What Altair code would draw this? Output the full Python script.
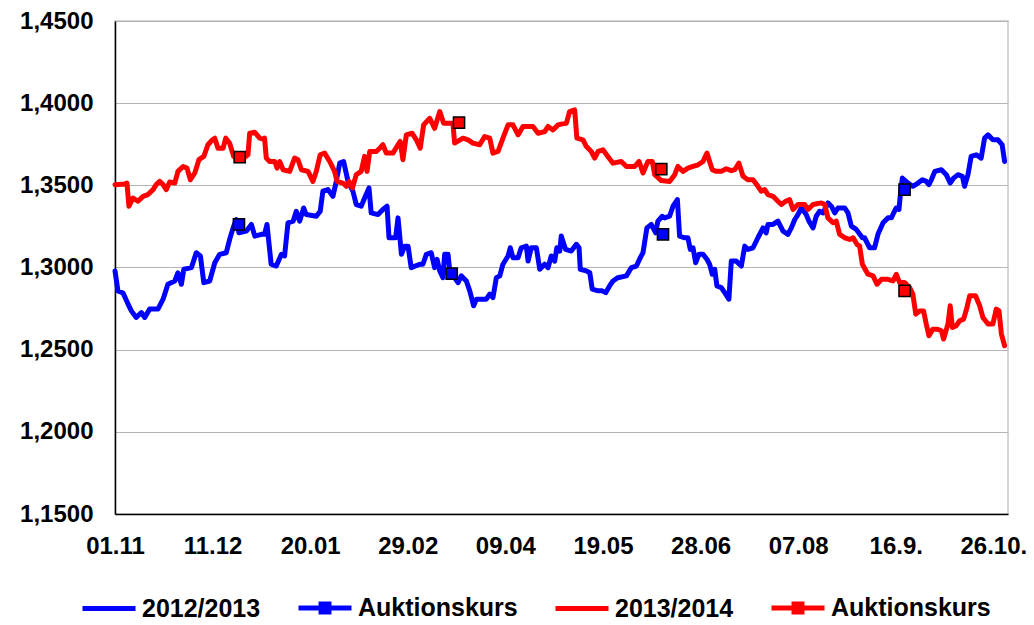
import altair as alt
import pandas as pd

# x axis: day index from 01.11, ticks every 40 days
x_tick_days = [0, 40, 80, 120, 160, 200, 240, 280, 320, 360]
x_tick_labels = ['01.11', '11.12', '20.01', '29.02', '09.04', '19.05', '28.06', '07.08', '16.9.', '26.10.']
y_ticks = [1.15, 1.20, 1.25, 1.30, 1.35, 1.40, 1.45]

series_names = {"A": "2012/2013", "B": "Auktionskurs", "C": "2013/2014", "D": "Auktionskurs"}

# 2012/2013 (blue): (day, rate)
kurs_2012 = [
    (0, 1.2979), (1.2, 1.2858), (3.3, 1.2845), (5.3, 1.2779), (6.7, 1.2736), (8.7, 1.2696), (10.8, 1.2726),
    (12.2, 1.2696), (14.2, 1.2747), (17.6, 1.2747), (19.7, 1.2807), (21.7, 1.2898), (24.5, 1.2918), (25.8, 1.2968),
    (27.2, 1.2898), (28.2, 1.2989), (31.3, 1.2999), (33.3, 1.3090), (35, 1.3070), (36.4, 1.2908), (38.8, 1.2918),
    (40.9, 1.3029), (42.9, 1.3080), (45.6, 1.3090), (47, 1.3171), (48.4, 1.3241), (49.7, 1.3292), (50.8, 1.3211),
    (53.8, 1.3221), (55.9, 1.3262), (57.3, 1.3191), (60, 1.3202), (61.3, 1.3202), (62.3, 1.3262), (64, 1.3020),
    (66.1, 1.3009), (68.2, 1.3080), (69.5, 1.3070), (70.9, 1.3272), (73, 1.3282), (74.3, 1.3342), (75.7, 1.3282),
    (77.3, 1.3362), (78.4, 1.3322), (82.5, 1.3312), (84.1, 1.3342), (85.2, 1.3464), (87.3, 1.3474), (89.3, 1.3433),
    (90.7, 1.3524), (92.1, 1.3635), (93.7, 1.3645), (95.5, 1.3524), (97.5, 1.3464), (98.9, 1.3383), (100.9, 1.3373),
    (102.3, 1.3423), (104.1, 1.3484), (105, 1.3332), (107.8, 1.3322), (109.8, 1.3353), (111.5, 1.3373), (112.3, 1.3181),
    (115, 1.3181), (116, 1.3302), (117.4, 1.3080), (118.7, 1.3130), (120.1, 1.3130), (121.4, 1.2999), (124.9, 1.3020),
    (126.2, 1.3020), (127.6, 1.3080), (129.6, 1.3090), (131, 1.2999), (132, 1.3050), (133.1, 1.2979), (134.4, 1.2938),
    (135.1, 1.3080), (136.5, 1.3080), (137.2, 1.2979), (139.2, 1.2938), (140.6, 1.2908), (141.9, 1.2949), (144, 1.2918),
    (145.4, 1.2858), (147, 1.2767), (148.1, 1.2807), (152.2, 1.2807), (153.6, 1.2838), (154.9, 1.2817), (156.3, 1.2938),
    (157.7, 1.2949), (159, 1.3020), (161.1, 1.3070), (162, 1.3120), (163.1, 1.3060), (165.2, 1.3060), (166.5, 1.3120),
    (168.6, 1.3130), (169.3, 1.3039), (170.6, 1.3120), (172.7, 1.3120), (174.1, 1.2989), (176.1, 1.3020), (177.5, 1.2999),
    (178.8, 1.3070), (180.2, 1.3039), (181.1, 1.3120), (182.3, 1.3100), (182.9, 1.3191), (184.7, 1.3110), (187, 1.3100),
    (189.1, 1.3141), (190.2, 1.3120), (190.7, 1.2989), (193.2, 1.2979), (194.6, 1.2968), (195.6, 1.2868), (198, 1.2858),
    (199.7, 1.2858), (201.1, 1.2847), (202.7, 1.2888), (204.1, 1.2918), (206.1, 1.2938), (209.6, 1.2949), (211.6, 1.2999),
    (213.7, 1.3009), (215.3, 1.3060), (216.4, 1.3090), (218, 1.3241), (219.8, 1.3262), (221.6, 1.3211), (222.5, 1.3282),
    (224.3, 1.3312), (225.3, 1.3302), (227.3, 1.3312), (228.7, 1.3373), (230.5, 1.3413), (231.4, 1.3191), (233.5, 1.3181),
    (234.8, 1.3181), (235.8, 1.3110), (236.9, 1.3120), (238, 1.3029), (239.3, 1.3080), (241, 1.3080), (242.6, 1.3050),
    (243.7, 1.3020), (244.8, 1.2959), (245.8, 1.2989), (246.7, 1.2888), (248.5, 1.2878), (249.9, 1.2847), (251.6, 1.2807),
    (252.6, 1.3039), (254.6, 1.3039), (256.7, 1.3009), (258.1, 1.3130), (259.4, 1.3110), (261.5, 1.3120), (263.5, 1.3181),
    (265.6, 1.3241), (266.9, 1.3211), (267.6, 1.3262), (269.7, 1.3262), (271.7, 1.3282), (273.8, 1.3221), (275.8, 1.3202),
    (277.2, 1.3241), (278.6, 1.3292), (279.9, 1.3322), (281.3, 1.3362), (283.3, 1.3322), (284.4, 1.3282), (286.1, 1.3241),
    (287.4, 1.3312), (288.8, 1.3342), (290.2, 1.3332), (292.2, 1.3393), (293.6, 1.3373), (295, 1.3332), (296.3, 1.3362),
    (299.1, 1.3362), (300.4, 1.3332), (301.8, 1.3252), (303.8, 1.3232), (306.3, 1.3181), (307.2, 1.3181), (309.3, 1.3120),
    (311.3, 1.3120), (312.7, 1.3202), (314.8, 1.3272), (316.8, 1.3302), (318.2, 1.3302), (319.1, 1.3332), (320.2, 1.3362),
    (321.3, 1.3353), (321.9, 1.3444), (322.7, 1.3544), (325, 1.3514), (327, 1.3494), (329.1, 1.3514), (330.9, 1.3534),
    (332.5, 1.3524), (333.6, 1.3504), (334.6, 1.3534), (336, 1.3585), (338.7, 1.3595), (340.7, 1.3565), (342.3, 1.3514),
    (343.7, 1.3544), (345.5, 1.3565), (347.3, 1.3555), (348.2, 1.3494), (349.6, 1.3565), (350.9, 1.3676), (353, 1.3686),
    (355, 1.3666), (356.4, 1.3787), (357.8, 1.3807), (359.8, 1.3777), (361.9, 1.3777), (363.6, 1.3747), (364.6, 1.3645),
]

# 2013/2014 (red): (day, rate)
kurs_2013 = [
    (0, 1.3504), (4, 1.3508), (4.9, 1.3514), (5.7, 1.3373), (7.4, 1.3423), (9.4, 1.3403), (11.5, 1.3433), (13.5, 1.3444),
    (15.6, 1.3474), (16.9, 1.3504), (18.3, 1.3524), (19.7, 1.3504), (21, 1.3474), (22.4, 1.3520), (24.5, 1.3514),
    (25.8, 1.3585), (27.9, 1.3615), (29.5, 1.3605), (30.9, 1.3534), (32.7, 1.3575), (34.4, 1.3656), (36.4, 1.3676),
    (38.1, 1.3747), (39.5, 1.3771), (40.9, 1.3787), (42.2, 1.3726), (44.3, 1.3726), (45.4, 1.3787), (47, 1.3756),
    (48.6, 1.3676), (51.1, 1.3672), (52.7, 1.3666), (54.5, 1.3686), (55.2, 1.3817), (57.3, 1.3823), (59.3, 1.3787),
    (60.4, 1.3783), (61.3, 1.3787), (62, 1.3666), (63.4, 1.3645), (65.5, 1.3645), (66.4, 1.3605), (67.5, 1.3645),
    (68.9, 1.3595), (71.6, 1.3585), (73.6, 1.3666), (75, 1.3656), (76.4, 1.3595), (79.1, 1.3585), (81.1, 1.3524),
    (82.5, 1.3585), (84.1, 1.3686), (85.9, 1.3696), (88, 1.3645), (90, 1.3585), (91, 1.3524), (93.4, 1.3514),
    (94.8, 1.3494), (95.9, 1.3524), (97.3, 1.3484), (98.9, 1.3565), (100.9, 1.3585), (102.3, 1.3676), (103.3, 1.3585),
    (104.4, 1.3706), (107.1, 1.3706), (108.5, 1.3726), (109.8, 1.3747), (111.2, 1.3696), (113.9, 1.3696), (116, 1.3747),
    (116.9, 1.3767), (118, 1.3656), (119.4, 1.3807), (121.8, 1.3817), (123.5, 1.3777), (125.1, 1.3726), (126.5, 1.3868),
    (129, 1.3908), (131, 1.3847), (133.1, 1.3949), (134.7, 1.3878), (136.5, 1.3878), (138.5, 1.3878), (139.2, 1.3757),
    (142.6, 1.3787), (144.7, 1.3777), (146.7, 1.3757), (149.5, 1.3747), (151.5, 1.3797), (153.6, 1.3787), (154.9, 1.3696),
    (157, 1.3706), (159, 1.3787), (161.1, 1.3868), (163.1, 1.3868), (165.2, 1.3807), (167.2, 1.3858), (171.3, 1.3858),
    (173.4, 1.3817), (176.1, 1.3827), (177.5, 1.3858), (179.5, 1.3837), (181.6, 1.3868), (183.3, 1.3874), (185, 1.3878),
    (186.3, 1.3949), (188.4, 1.3959), (189.3, 1.3787), (191.8, 1.3777), (193.2, 1.3736), (195.2, 1.3706), (196.6, 1.3666),
    (198, 1.3706), (200, 1.3716), (202, 1.3676), (204.1, 1.3635), (207.5, 1.3645), (209.6, 1.3615), (213, 1.3615),
    (214.8, 1.3645), (216.4, 1.3575), (218.4, 1.3645), (220.2, 1.3645), (221.2, 1.3565), (223.9, 1.3529), (227.3, 1.3524),
    (229.4, 1.3565), (230.7, 1.3615), (232.8, 1.3585), (234.8, 1.3605), (236.9, 1.3615), (239, 1.3625), (241, 1.3645),
    (242.6, 1.3696), (244.8, 1.3595), (246.4, 1.3585), (248.5, 1.3585), (250.5, 1.3601), (252.6, 1.3589), (254, 1.3595),
    (255.7, 1.3635), (257.4, 1.3555), (259.4, 1.3534), (261.5, 1.3534), (263.5, 1.3494), (264.9, 1.3464), (266.3, 1.3474),
    (267.6, 1.3444), (269.7, 1.3433), (271.7, 1.3403), (273.1, 1.3383), (274.9, 1.3403), (276.5, 1.3413), (277.9, 1.3353),
    (279.9, 1.3383), (282.7, 1.3383), (284, 1.3353), (286.1, 1.3383), (289.5, 1.3393), (290.9, 1.3383), (292.2, 1.3302),
    (294.3, 1.3272), (295.6, 1.3282), (297, 1.3202), (299.1, 1.3181), (301.1, 1.3171), (302.5, 1.3181), (304.1, 1.3141),
    (305.2, 1.3130), (306.3, 1.3020), (308.6, 1.2959), (310.7, 1.2949), (312.3, 1.2898), (314.1, 1.2928), (316.8, 1.2928),
    (318.9, 1.2918), (320.2, 1.2959), (321.6, 1.2908), (323.6, 1.2908), (325.7, 1.2878), (327, 1.2838), (328.2, 1.2716),
    (329.8, 1.2736), (331.4, 1.2736), (332.5, 1.2656), (333.6, 1.2585), (335.2, 1.2625), (336.9, 1.2625), (338.7, 1.2615),
    (339.6, 1.2565), (341.4, 1.2656), (342.3, 1.2767), (343.2, 1.2635), (344.8, 1.2646), (346.2, 1.2676), (347.8, 1.2686),
    (349.2, 1.2757), (350.3, 1.2828), (352.7, 1.2828), (354.4, 1.2767), (355.7, 1.2696), (357.8, 1.2656), (359.8, 1.2656),
    (361.2, 1.2747), (362.3, 1.2736), (363.3, 1.2595), (364.6, 1.2524),
]

# auction rates (markers)
auktion_2012 = [(50.8, 1.3262), (138, 1.2963), (224.6, 1.3202), (323.6, 1.3474)]
auktion_2013 = [(51.1, 1.3672), (141, 1.3882), (223.9, 1.3599), (323.6, 1.2858)]

line_rows = [{"day": d, "kurs": v, "serie": "A"} for d, v in kurs_2012] + \
            [{"day": d, "kurs": v, "serie": "C"} for d, v in kurs_2013]
marker_rows = [{"day": d, "kurs": v, "serie": "B"} for d, v in auktion_2012] + \
              [{"day": d, "kurs": v, "serie": "D"} for d, v in auktion_2013]
lines_df = pd.DataFrame(line_rows)
markers_df = pd.DataFrame(marker_rows)

FONT = "Liberation Sans"
BLUE = "#0000FF"
RED = "#FF0000"

x_label_expr = "[" + ",".join("'%s'" % s for s in x_tick_labels) + "][round(datum.value/40)]"
legend_label_expr = "datum.value=='A'?'%s':datum.value=='B'?'%s':datum.value=='C'?'%s':'%s'" % (
    series_names["A"], series_names["B"], series_names["C"], series_names["D"])

color_scale = alt.Scale(domain=list(series_names.keys()), range=[BLUE, BLUE, RED, RED])

legend = alt.Legend(
    title=None,
    orient="none",
    legendX=-35,
    legendY=558,
    direction="horizontal",
    labelExpr=legend_label_expr,
    labelFont=FONT,
    labelFontSize=25,
    labelFontWeight="bold",
    labelColor="black",
    labelOffset=4,
    columnPadding=27,
    symbolSize=2809,
    symbolStrokeWidth=5,
    symbolOpacity=1,
    symbolType={"expr": "(datum.value=='B'||datum.value=='D') ? 'M-1,0H1M-0.15,-0.15H0.15V0.15H-0.15Z' : 'M-1,0H1'"},
    symbolStrokeColor={"expr": "(datum.value=='A'||datum.value=='B') ? '#0000FF' : '#FF0000'"},
    symbolFillColor={"expr": "(datum.value=='A'||datum.value=='B') ? '#0000FF' : '#FF0000'"},
)

x_enc = alt.X(
    "day:Q",
    scale=alt.Scale(domain=[0, 366], nice=False, zero=False),
    axis=alt.Axis(
        values=x_tick_days, labelExpr=x_label_expr, title=None, grid=False, ticks=False, tickSize=0,
        labelFont=FONT, labelFontSize=24, labelFontWeight="bold", labelColor="black",
        labelPadding=20, domainColor="black", domainWidth=1.5, labelFlush=False,
    ),
)
y_enc = alt.Y(
    "kurs:Q",
    scale=alt.Scale(domain=[1.15, 1.45], nice=False, zero=False),
    axis=alt.Axis(
        values=y_ticks, labelExpr="replace(format(datum.value, '.4f'), '.', ',')", title=None,
        grid=True, gridColor="#b4b4b4", gridWidth=1, ticks=False, tickSize=0,
        labelFont=FONT, labelFontSize=24, labelFontWeight="bold", labelColor="black",
        labelPadding=22, domainColor="black", domainWidth=1.5,
    ),
)

lines = alt.Chart(lines_df).mark_line(strokeWidth=5, strokeJoin="round", strokeCap="round").encode(
    x=x_enc,
    y=y_enc,
    color=alt.Color("serie:N", scale=color_scale, legend=legend),
    detail="serie:N",
)

markers = alt.Chart(markers_df).mark_square(size=125, filled=True, stroke="black", strokeWidth=1.5, opacity=1).encode(
    x="day:Q",
    y="kurs:Q",
    color=alt.Color("serie:N", scale=color_scale, legend=legend),
)

chart = alt.layer(lines, markers).properties(
    width=893,
    height=493,
    padding={"left": 107, "top": 13, "right": 18, "bottom": 110},
    autosize=alt.AutoSizeParams(type="none"),
    background="white",
).configure_view(stroke="#c8c8c8", strokeWidth=1.5)

chart.save("out.html", embed_options={"renderer": "svg", "actions": False})
